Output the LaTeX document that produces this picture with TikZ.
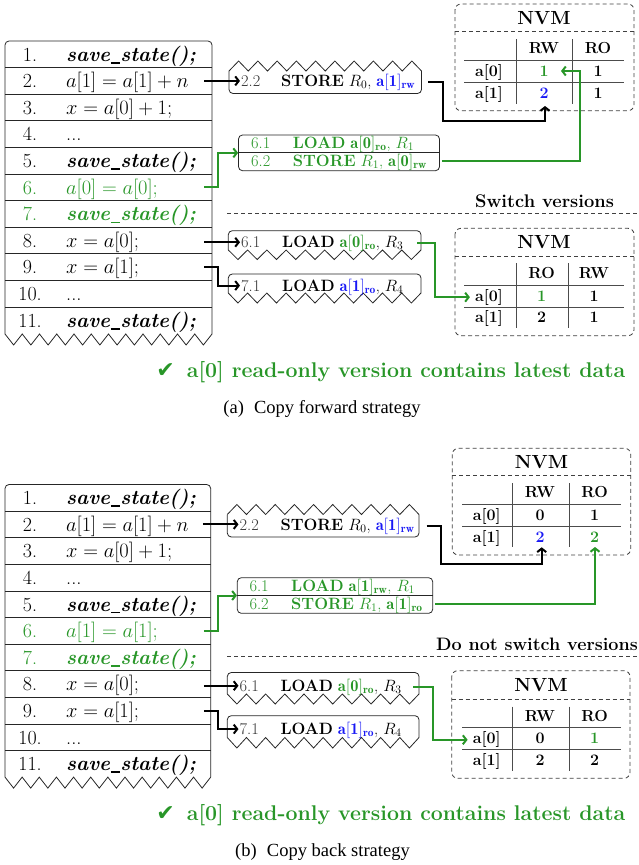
\RequirePackage{fix-cm}
\documentclass[tikz,border=0pt]{standalone}
\usepackage{fontspec}
\newfontfamily\djv{DejaVu Sans}
\newfontfamily\capfont{Liberation Serif}
\usetikzlibrary{arrows.meta,calc}
\definecolor{cgreen}{RGB}{40,150,40}
\definecolor{cblue}{RGB}{25,25,245}
\tikzset{
  codef/.style={font=\fontsize{20.5}{24}\selectfont, inner sep=0pt, anchor=base west},
  numf/.style={font=\fontsize{20}{24}\selectfont, inner sep=0pt, anchor=base},
  boxf/.style={font=\fontsize{16.4}{19}\selectfont, inner sep=1pt, anchor=base west},
  cellf/.style={font=\fontsize{16}{19}\selectfont\bfseries, inner sep=0pt, anchor=base},
  nvmf/.style={font=\fontsize{19}{22}\selectfont\bfseries, inner sep=0pt, anchor=base},
  swf/.style={font=\fontsize{18.3}{21}\selectfont\bfseries, inner sep=0pt},
  chkf/.style={font=\fontsize{21.3}{24}\selectfont\bfseries, text=cgreen, inner sep=0pt, anchor=base west},
  capf/.style={font=\capfont\fontsize{18.5}{22}\selectfont, inner sep=0pt, anchor=base},
  rowslot/.style={minimum width=207pt, minimum height=26.6pt, inner sep=0pt},
  conn/.style={line width=2pt, -{Straight Barb[length=3.5pt,width=9pt]}},
  gconn/.style={conn, draw=cgreen},
  frame/.style={draw=black!85, line width=0.8pt},
  dashframe/.style={draw=black!75, line width=0.8pt, dash pattern=on 4pt off 3pt},
  rule/.style={draw=black!70, line width=0.9pt},
}
% zigzag: x0, y, x1, amplitude (y units), teeth
\newcommand\zz[5]{%
  \draw[frame] (#1,#2) \foreach \k in {1,...,#5}{ -- ++({(#3-#1)/(2*#5)},{#4}) -- ++({(#3-#1)/(2*#5)},{-1*(#4)})};}
% code row: prefix, top y, index, colour, text
\newcommand\coderow[5]{%
  \node[numf,text=#4] (#1n#3) at (30,{#2+26.6*(#3-0.5)+6.8}) {#3.};
  \node[codef,text=#4] (#1c#3) at (66,{#2+26.6*(#3-0.5)+6.8}) {#5};}
\newcommand\us{\kern0.04em\rule[-0.12em]{0.42em}{0.08em}\kern0.04em}
\newcommand\sst{\textbf{\textit{save\us state();}}}
\begin{document}
\begin{tikzpicture}[x=1pt,y=-1pt]
\useasboundingbox (0,0) rectangle (639,865);

%%%%%%%%%%%%%%%% PANEL (a) %%%%%%%%%%%%%%%%
% code box
\draw[frame, rounded corners=4] (5,334) -- (5,41) -- (212,41) -- (212,334);
\zz{5}{334}{212}{11}{12}
\foreach \y in {1,...,10} \draw[frame] (5,{41+26.6*\y}) -- (212,{41+26.6*\y});
\foreach \i in {1,...,11} \node[rowslot] (ar\i) at (108.5,{41+26.6*(\i-0.5)}) {};
\coderow{a}{41}{1}{black}{\sst}
\coderow{a}{41}{2}{black}{$a[1] = a[1] + n$}
\coderow{a}{41}{3}{black}{$x = a[0] + 1;$}
\coderow{a}{41}{4}{black}{...}
\coderow{a}{41}{5}{black}{\sst}
\coderow{a}{41}{6}{cgreen}{$a[0] = a[0];$}
\coderow{a}{41}{7}{cgreen}{\sst}
\coderow{a}{41}{8}{black}{$x = a[0];$}
\coderow{a}{41}{9}{black}{$x = a[1];$}
\coderow{a}{41}{10}{black}{...}
\coderow{a}{41}{11}{black}{\sst}

% store box 2.2
\draw[frame, rounded corners=4] (229,71) -- (229,93.5) -- (421.5,93.5) -- (421.5,71);
\zz{229}{71}{421.5}{-10}{10}
\node[boxf, text=black!80] (a22) at (240,86.5) {2.2};
\node[boxf] (a22i) at (280,86.5) {\textbf{STORE} $R_0$, \textcolor{cblue}{$\mathbf{a[1]_{rw}}$}};
\coordinate (a22r) at (428,81.5);

% green box
\node[frame, rounded corners=4, minimum width=201pt, minimum height=35.7pt, inner sep=0pt] (agb) at (339,152.85) {};
\draw[frame] (agb.west) -- (agb.east);
\node[boxf, text=cgreen] (a61g) at (250,148) {6.1};
\node[boxf, text=cgreen] (a61gi) at (291.7,148) {\textbf{LOAD} $\mathbf{a[0]_{ro}}$, $R_1$};
\node[boxf, text=cgreen] (a62g) at (250,166) {6.2};
\node[boxf, text=cgreen] (a62gi) at (291.7,166) {\textbf{STORE} $R_1$, $\mathbf{a[0]_{rw}}$};
\coordinate (agout) at ($(agb.east |- a62g.center)+(2,0)$);

% NVM table top
\draw[dashframe, rounded corners=6] (455,4) rectangle (634,110.7);
\draw[dashframe] (455,31.7) -- (634,31.7);
\node[nvmf] (aT1t) at (544,24.3) {NVM};
\draw[rule] (516,39.3) -- (516,104);
\draw[rule] (572.3,39.3) -- (572.3,104);
\draw[rule] (464.3,60) -- (624.3,60);
\draw[rule] (464.3,82.3) -- (624.3,82.3);
\node[cellf] (aT1h1) at (544,53.8) {RW};
\node[cellf] (aT1h2) at (598,53.8) {RO};
\node[cellf] (aT1l0) at (489,76.5) {a[0]};
\node[cellf] (aT1l1) at (489,98.8) {a[1]};
\node[cellf, text=cgreen] (aT1a) at (544,76.5) {1};
\node[cellf] (aT1b) at (598,76.5) {1};
\node[cellf, text=cblue] (aT1c) at (544,98.8) {2};
\node[cellf] (aT1d) at (598,98.8) {1};
\coordinate (aT1tip) at (561,71);
\coordinate (aT1tip2) at (545,106);

% connectors top
\draw[conn] ($(ar2.east)+(-8,0)$) -- (ar2.east -| a22.west);
\draw[conn] (a22r) -- ++(15,0) |- ([yshift=-15pt]aT1tip2) -- (aT1tip2);
\draw[gconn] ($(ar6.east)+(-8,0)$) -- ++(14,0) |- (agb.west);
\draw[gconn] (agout) -| ([xshift=19pt]aT1tip) -- (aT1tip);

% switch versions
\node[swf, anchor=base] (asw) at (544.5,207.5) {Switch versions};
\coordinate (asepL) at (227,213.3);
\coordinate (asepR) at (645,213.3);
\draw[dashframe] (asepL) -- (asepR);

% load 6.1
\draw[frame, rounded corners=4] (228.3,250) -- (228.3,230.7) -- (421,230.7) -- (421,250);
\zz{228.3}{250}{421}{9.5}{10}
\node[boxf, text=black!80] (a61) at (240,247.5) {6.1};
\node[boxf] (a61i) at (281,247.5) {\textbf{LOAD} \textcolor{cgreen}{$\mathbf{a[0]_{ro}}$}, $R_3$};
\coordinate (a61r) at (417,242.5);
% load 7.1
\draw[frame, rounded corners=4] (228.3,293) -- (228.3,274) -- (421,274) -- (421,293);
\zz{228.3}{293}{421}{10}{10}
\node[boxf, text=black!80] (a71) at (240,291) {7.1};
\node[boxf] (a71i) at (281,291) {\textbf{LOAD} \textcolor{cblue}{$\mathbf{a[1]_{ro}}$}, $R_4$};

% NVM table bottom
\draw[dashframe, rounded corners=6] (455,228.3) rectangle (634,335.7);
\draw[dashframe] (455,256) -- (634,256);
\node[nvmf] (aT2t) at (544,248.3) {NVM};
\draw[rule] (516,263.3) -- (516,327.7);
\draw[rule] (568.3,263.3) -- (568.3,327.7);
\draw[rule] (464.3,285) -- (624.3,285);
\draw[rule] (464.3,307.3) -- (624.3,307.3);
\node[cellf] (aT2h1) at (541.7,278.2) {RO};
\node[cellf] (aT2h2) at (594,278.2) {RW};
\node[cellf] (aT2l0) at (489,301.2) {a[0]};
\node[cellf] (aT2l1) at (489,322.8) {a[1]};
\node[cellf, text=cgreen] (aT2a) at (541.7,301.2) {1};
\node[cellf] (aT2b) at (594,301.2) {1};
\node[cellf] (aT2c) at (541.7,322.8) {2};
\node[cellf] (aT2d) at (594,322.8) {1};

\draw[conn] ($(ar8.east |- a61.center)+(-8,0)$) -- (a61.west);
\draw[conn] ($(ar9.east)+(-8,0)$) -- ++(14,0) |- (a71.west);
\draw[gconn] (a61r) -- ++(18,0) |- ($(aT2l0.west)+(-5,0)$);

% check line and caption
\node[font=\djv\fontsize{22}{24}\selectfont, text=cgreen, inner sep=0pt, anchor=base east] (achkm) at (175,377.3) {✔};
\node[chkf] (achk) at (186.7,377.3) {a[0] read-only version contains latest data};
\node[capf] (acap) at (322,413.3) {(a)\hskip0.55em Copy forward strategy};

%%%%%%%%%%%%%%%% PANEL (b) %%%%%%%%%%%%%%%%
\draw[frame, rounded corners=4] (5,777.1) -- (5,484.5) -- (210.7,484.5) -- (210.7,777.1);
\zz{5}{777.1}{210.7}{11}{12}
\foreach \y in {1,...,10} \draw[frame] (5,{484.5+26.6*\y}) -- (210.7,{484.5+26.6*\y});
\foreach \i in {1,...,11} \node[rowslot, minimum width=205.7pt] (br\i) at (107.85,{484.5+26.6*(\i-0.5)}) {};
\coderow{b}{484.5}{1}{black}{\sst}
\coderow{b}{484.5}{2}{black}{$a[1] = a[1] + n$}
\coderow{b}{484.5}{3}{black}{$x = a[0] + 1;$}
\coderow{b}{484.5}{4}{black}{...}
\coderow{b}{484.5}{5}{black}{\sst}
\coderow{b}{484.5}{6}{cgreen}{$a[1] = a[1];$}
\coderow{b}{484.5}{7}{cgreen}{\sst}
\coderow{b}{484.5}{8}{black}{$x = a[0];$}
\coderow{b}{484.5}{9}{black}{$x = a[1];$}
\coderow{b}{484.5}{10}{black}{...}
\coderow{b}{484.5}{11}{black}{\sst}

% store box 2.2
\draw[frame, rounded corners=4] (227.3,514.5) -- (227.3,537) -- (419,537) -- (419,514.5);
\zz{227.3}{514.5}{419}{-10}{10}
\node[boxf, text=black!80] (b22) at (238.5,530) {2.2};
\node[boxf] (b22i) at (279.3,530) {\textbf{STORE} $R_0$, \textcolor{cblue}{$\mathbf{a[1]_{rw}}$}};
\coordinate (b22r) at (426.7,525.5);

% green box
\node[frame, rounded corners=4, minimum width=195.4pt, minimum height=35.6pt, inner sep=0pt] (bgb) at (335,595.5) {};
\draw[frame] (bgb.west) -- (bgb.east);
\node[boxf, text=cgreen] (b61g) at (248.3,591.5) {6.1};
\node[boxf, text=cgreen] (b61gi) at (290,591.5) {\textbf{LOAD} $\mathbf{a[1]_{rw}}$, $R_1$};
\node[boxf, text=cgreen] (b62g) at (248.3,609.5) {6.2};
\node[boxf, text=cgreen] (b62gi) at (290,609.5) {\textbf{STORE} $R_1$, $\mathbf{a[1]_{ro}}$};
\coordinate (bgout) at ($(bgb.east |- b62g.center)+(2,0)$);

% NVM table top
\draw[dashframe, rounded corners=6] (452.3,448.3) rectangle (630.7,555);
\draw[dashframe] (452.3,475) -- (630.7,475);
\node[nvmf] (bT1t) at (541.5,468.2) {NVM};
\draw[rule] (512.7,483.3) -- (512.7,547.3);
\draw[rule] (569,483.3) -- (569,547.3);
\draw[rule] (462,504.3) -- (621,504.3);
\draw[rule] (462,526.7) -- (621,526.7);
\node[cellf] (bT1h1) at (540,497.2) {RW};
\node[cellf] (bT1h2) at (594.7,497.2) {RO};
\node[cellf] (bT1l0) at (486.7,520.5) {a[0]};
\node[cellf] (bT1l1) at (486.7,542.2) {a[1]};
\node[cellf] (bT1a) at (540,520.5) {0};
\node[cellf] (bT1b) at (594.7,520.5) {1};
\node[cellf, text=cblue] (bT1c) at (540,542.2) {2};
\node[cellf, text=cgreen] (bT1d) at (594.7,542.2) {2};
\coordinate (bT1tip) at (595,547);
\coordinate (bT1tip2) at (541.7,547.3);

\draw[conn] ($(br2.east)+(-8,0)$) -- (br2.east -| b22.west);
\draw[conn] (b22r) -- ++(14,0) |- ([yshift=-17pt]bT1tip2) -- (bT1tip2);
\draw[gconn] ($(br6.east)+(-7,0)$) -- ++(14,0) |- (bgb.west);
\draw[gconn] (bgout) -| (bT1tip);

% do not switch versions
\node[swf, font=\fontsize{18}{21}\selectfont\bfseries, anchor=base east] (bsw) at (638,650.5) {Do not switch versions};
\coordinate (bsepL) at (227,656.7);
\coordinate (bsepR) at (645,656.7);
\draw[dashframe] (bsepL) -- (bsepR);

% load 6.1
\draw[frame, rounded corners=4] (227.3,694) -- (227.3,672.5) -- (419,672.5) -- (419,694);
\zz{227.3}{694}{419}{10}{10}
\node[boxf, text=black!80] (b61) at (238.5,691) {6.1};
\node[boxf] (b61i) at (279.3,691) {\textbf{LOAD} \textcolor{cgreen}{$\mathbf{a[0]_{ro}}$}, $R_3$};
\coordinate (b61r) at (413.3,686.5);
% load 7.1
\draw[frame, rounded corners=4] (227.3,737.5) -- (227.3,715.7) -- (419,715.7) -- (419,737.5);
\zz{227.3}{737.5}{419}{10.5}{10}
\node[boxf, text=black!80] (b71) at (238.5,734.5) {7.1};
\node[boxf] (b71i) at (279.3,734.5) {\textbf{LOAD} \textcolor{cblue}{$\mathbf{a[1]_{ro}}$}, $R_4$};

% NVM table bottom
\draw[dashframe, rounded corners=6] (451.7,670.7) rectangle (630,778.3);
\draw[dashframe] (451.7,699) -- (630,699);
\node[nvmf] (bT2t) at (541,691.5) {NVM};
\draw[rule] (512.7,706.7) -- (512.7,771);
\draw[rule] (569,706.7) -- (569,771);
\draw[rule] (462,727.3) -- (621,727.3);
\draw[rule] (462,749.3) -- (621,749.3);
\node[cellf] (bT2h1) at (540,721.2) {RW};
\node[cellf] (bT2h2) at (594.7,721.2) {RO};
\node[cellf] (bT2l0) at (486.7,743.8) {a[0]};
\node[cellf] (bT2l1) at (486.7,765.5) {a[1]};
\node[cellf] (bT2a) at (540,743.8) {0};
\node[cellf, text=cgreen] (bT2b) at (594.7,743.8) {1};
\node[cellf] (bT2c) at (540,765.5) {2};
\node[cellf] (bT2d) at (594.7,765.5) {2};

\draw[conn] ($(br8.east |- b61.center)+(-7,0)$) -- (b61.west);
\draw[conn] ($(br9.east)+(-7,0)$) -- ++(14,0) |- (b71.west);
\draw[gconn] (b61r) -- ++(20,0) |- ($(bT2l0.west)+(-5,0)$);

\node[font=\djv\fontsize{22}{24}\selectfont, text=cgreen, inner sep=0pt, anchor=base east] (bchkm) at (175,820.8) {✔};
\node[chkf] (bchk) at (186.7,820.8) {a[0] read-only version contains latest data};
\node[capf] (bcap) at (322.5,856.8) {(b)\hskip0.55em Copy back strategy};
\end{tikzpicture}
\end{document}
